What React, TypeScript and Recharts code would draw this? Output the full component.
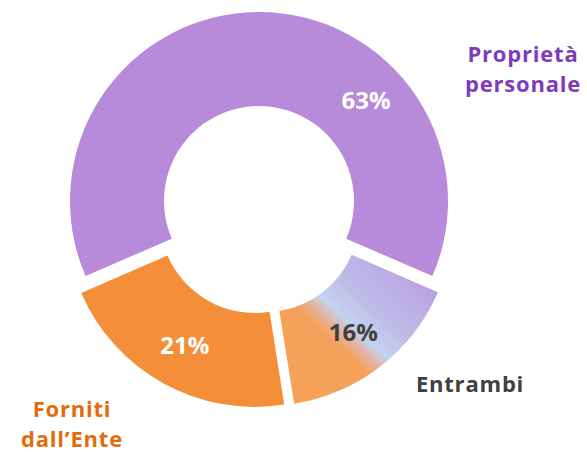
import React from 'react';
import { PieChart, Pie, Cell, Sector } from 'recharts';

// shares per category
const categories = ['Proprietà personale', 'Entrambi', 'Forniti dall’Ente'];
const shares = [63, 16, 21];
const sliceColors = ['#B88BDA', 'url(#entrambiFill)', '#F58E39'];
const percentColors = ['#FFFFFF', '#404040', '#FFFFFF'];
const nameColors = ['#7E3DB8', '#404040', '#E36C0A'];

const data = categories.map((name, i) => ({ name, value: shares[i] }));

const W = 587;
const H = 452;
const CX = 259;
const CY = 210;
const OUTER = 189;
const INNER = 95;
const EXPLODE = 9;
const RAD = Math.PI / 180;
const FONT = '"Open Sans", "DejaVu Sans", sans-serif';

// biggest slice centred on 12 o'clock
const total = shares.reduce((a, b) => a + b, 0);
const START = 90 + (shares[0] / total) * 180;

// category name placement, relative to the pie centre
const nameOffsets = [
  { dx: 264, dy: -148 },
  { dx: 211, dy: 182 },
  { dx: -187, dy: 207 },
];
const LINE_H = 30;
// the big slice keeps its % label off to the upper right
const percentAngleShift = [-44, 0, 0];

const ExplodedSector = (props: any) => {
  const { cx, cy, midAngle, innerRadius, outerRadius, startAngle, endAngle, fill } = props;
  const dx = EXPLODE * Math.cos(midAngle * RAD);
  const dy = -EXPLODE * Math.sin(midAngle * RAD);
  return (
    <Sector
      cx={cx + dx}
      cy={cy + dy}
      innerRadius={innerRadius}
      outerRadius={outerRadius}
      startAngle={startAngle}
      endAngle={endAngle}
      fill={fill}
      stroke="none"
    />
  );
};

const renderLabel = (props: any) => {
  const { cx, cy, midAngle, innerRadius, outerRadius, percent, index } = props;
  const r = (innerRadius + outerRadius) / 2 + EXPLODE + 3;
  const a = (midAngle + percentAngleShift[index]) * RAD;
  const px = cx + r * Math.cos(a);
  const py = cy - r * Math.sin(a);
  const lines = categories[index].split(' ');
  const off = nameOffsets[index];
  return (
    <g>
      <text
        x={px}
        y={py}
        textAnchor="middle"
        dominantBaseline="central"
        fill={percentColors[index]}
        fontSize={24}
        fontWeight={700}
        fontFamily={FONT}
      >
        {`${Math.round(percent * 100)}%`}
      </text>
      {lines.map((l, i) => (
        <text
          key={i}
          x={cx + off.dx}
          y={cy + off.dy + i * LINE_H}
          textAnchor="middle"
          fill={nameColors[index]}
          fontSize={22}
          fontWeight={700}
          letterSpacing={0.8}
          fontFamily={FONT}
        >
          {l}
        </text>
      ))}
    </g>
  );
};

export default function App() {
  return (
    <div style={{ position: 'fixed', left: 0, top: 0, width: W, height: H, background: '#fff' }}>
      <PieChart width={W} height={H} margin={{ top: 0, right: 0, bottom: 0, left: 0 }}>
        <defs>
          <linearGradient id="entrambiFill" x1="0" y1="1" x2="1" y2="0">
            <stop offset="0" stopColor="#F6A257" />
            <stop offset="0.38" stopColor="#F5A15B" />
            <stop offset="0.44" stopColor="#E2B4A4" />
            <stop offset="0.49" stopColor="#C4D3EE" />
            <stop offset="0.62" stopColor="#BEBCE8" />
            <stop offset="1" stopColor="#B996DE" />
          </linearGradient>
        </defs>
        <Pie
          data={data}
          dataKey="value"
          nameKey="name"
          cx={CX}
          cy={CY}
          innerRadius={INNER}
          outerRadius={OUTER}
          startAngle={START}
          endAngle={START - 360}
          stroke="none"
          shape={ExplodedSector}
          label={renderLabel}
          labelLine={false}
          isAnimationActive={false}
        >
          {data.map((d, i) => (
            <Cell key={d.name} fill={sliceColors[i]} />
          ))}
        </Pie>
      </PieChart>
    </div>
  );
}
